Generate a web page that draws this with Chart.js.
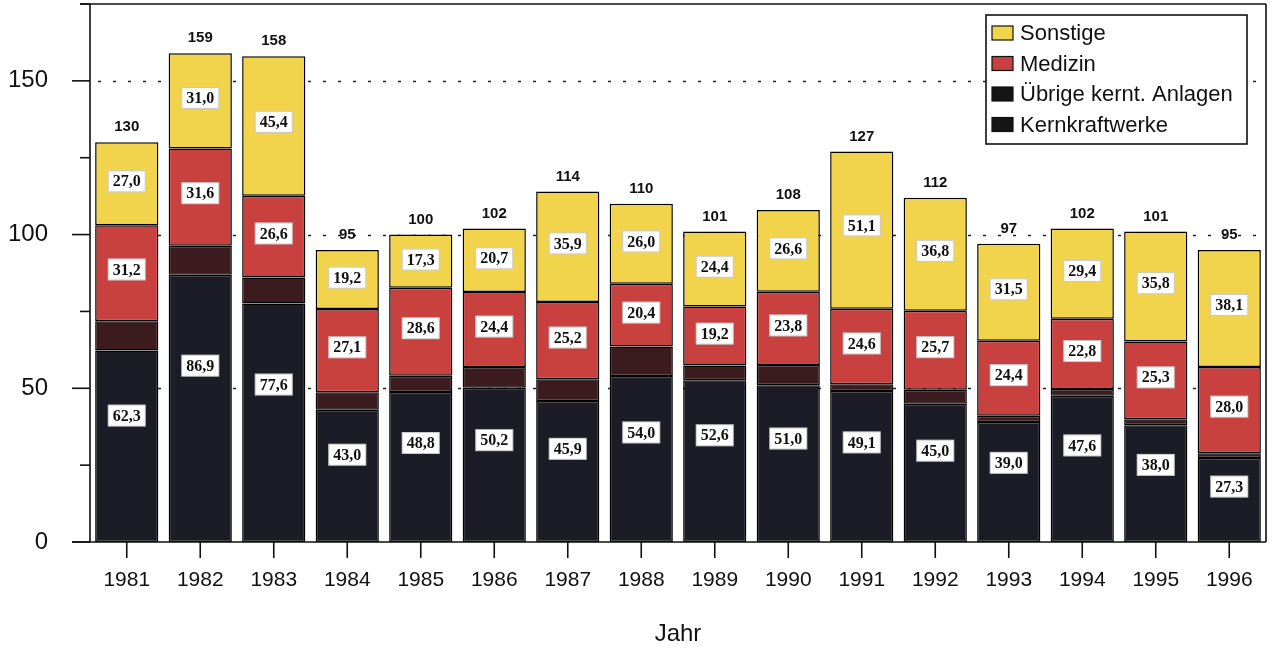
<!DOCTYPE html>
<html lang="de">
<head>
<meta charset="utf-8">
<title>Jahr – Kernkraftwerke, Übrige kernt. Anlagen, Medizin, Sonstige</title>
<script src="https://cdn.jsdelivr.net/npm/chart.js@4.4.1/dist/chart.umd.min.js"></script>
<style>
  html, body { margin: 0; padding: 0; background: #fff; }
  canvas { display: block; }
</style>
</head>
<body>
<canvas id="chart" width="1273" height="651"></canvas>
<script>
// Jahreswerte je Bereich (gestapelt, von unten nach oben)
const years = ['1981', '1982', '1983', '1984', '1985', '1986', '1987', '1988',
               '1989', '1990', '1991', '1992', '1993', '1994', '1995', '1996'];
const kernkraftwerke = [62.3, 86.9, 77.6, 43.0, 48.8, 50.2, 45.9, 54.0, 52.6, 51.0, 49.1, 45.0, 39.0, 47.6, 38.0, 27.3];
const uebrigeAnlagen = [9.5, 9.5, 8.4, 5.7, 5.3, 6.7, 7.0, 9.6, 4.8, 6.6, 2.2, 4.5, 2.1, 2.2, 1.9, 1.6];
const medizin        = [31.2, 31.6, 26.6, 27.1, 28.6, 24.4, 25.2, 20.4, 19.2, 23.8, 24.6, 25.7, 24.4, 22.8, 25.3, 28.0];
const sonstige       = [27.0, 31.0, 45.4, 19.2, 17.3, 20.7, 35.9, 26.0, 24.4, 26.6, 51.1, 36.8, 31.5, 29.4, 35.8, 38.1];
const totals         = [130, 159, 158, 95, 100, 102, 114, 110, 101, 108, 127, 112, 97, 102, 101, 95];

// Achsenbeschriftung
const yTickValues = [0, 50, 100, 150];
const gridValues  = [50, 100, 150];

const SANS  = '"Liberation Sans", Arial, Helvetica, sans-serif';
const SERIF = '"Liberation Serif", "Times New Roman", serif';
const INK = '#111111';

const COLORS = {
  kernkraftwerke: '#1c1c26',
  uebrige: '#3b1b1e',
  medizin: '#c8413f',
  sonstige: '#f1d44c'
};

const fmt = v => v.toFixed(1).replace('.', ',');

// Rahmen, Hilfslinien, Teilstriche, Werte-Kästchen, Summen und Legende
const decorations = {
  id: 'decorations',
  beforeDatasetsDraw(chart) {
    const { ctx, chartArea: a, scales: { y } } = chart;
    ctx.save();
    ctx.strokeStyle = '#222';
    ctx.lineWidth = 1.6;
    ctx.setLineDash([3, 12]);
    gridValues.forEach(v => {
      const py = Math.round(y.getPixelForValue(v)) + 0.5;
      ctx.beginPath();
      ctx.moveTo(a.left + 8, py);
      ctx.lineTo(a.right, py);
      ctx.stroke();
    });
    ctx.restore();
  },
  afterDatasetsDraw(chart) {
    const { ctx, chartArea: a, scales: { x, y } } = chart;
    ctx.save();

    // Achsen und Rahmen
    ctx.strokeStyle = INK;
    ctx.lineWidth = 1.6;
    ctx.beginPath();
    ctx.moveTo(a.left, a.top); ctx.lineTo(a.left, a.bottom);
    ctx.moveTo(a.left - 18, a.bottom); ctx.lineTo(a.right, a.bottom);
    ctx.moveTo(a.left - 10, a.top); ctx.lineTo(a.right, a.top);
    ctx.moveTo(a.right, a.top); ctx.lineTo(a.right, a.bottom);
    ctx.stroke();

    // Teilstriche der y-Achse (lang bei 50er-Schritten, kurz dazwischen)
    for (let v = 0; v <= y.max; v += 25) {
      const py = y.getPixelForValue(v);
      const len = v % 50 === 0 ? 18 : 10;
      ctx.beginPath();
      ctx.moveTo(a.left - len, py); ctx.lineTo(a.left, py);
      ctx.stroke();
    }
    // Teilstriche der x-Achse
    years.forEach((_, i) => {
      const px = x.getPixelForValue(i);
      ctx.beginPath();
      ctx.moveTo(px, a.bottom); ctx.lineTo(px, a.bottom + 16);
      ctx.stroke();
    });

    // Werte-Kästchen in den Segmenten
    const labelled = [
      { index: 0, frac: 0.66 },
      { index: 2, frac: 0.54 },
      { index: 3, frac: 0.53 }
    ];
    ctx.font = 'bold 16px ' + SERIF;
    ctx.textAlign = 'center';
    ctx.textBaseline = 'middle';
    labelled.forEach(({ index, frac }) => {
      const meta = chart.getDatasetMeta(index);
      const data = chart.data.datasets[index].data;
      meta.data.forEach((bar, i) => {
        const txt = fmt(data[i]);
        const cy = bar.base + (bar.y - bar.base) * frac;
        const w = ctx.measureText(txt).width + 10;
        const h = 22;
        ctx.fillStyle = '#fff';
        ctx.fillRect(bar.x - w / 2, cy - h / 2, w, h);
        ctx.strokeStyle = 'rgba(0,0,0,0.22)';
        ctx.lineWidth = 1;
        ctx.strokeRect(bar.x - w / 2 + 0.5, cy - h / 2 + 0.5, w - 1, h - 1);
        ctx.fillStyle = INK;
        ctx.fillText(txt, bar.x, cy + 1);
      });
    });

    // Summen über den Säulen
    const topMeta = chart.getDatasetMeta(chart.data.datasets.length - 1);
    ctx.font = 'bold 15px ' + SANS;
    ctx.fillStyle = INK;
    topMeta.data.forEach((bar, i) => {
      ctx.fillText(String(totals[i]), bar.x, bar.y - 15);
    });

    // Legende oben rechts
    const box = { x: 986, y: 15, w: 261, h: 129 };
    ctx.fillStyle = '#fff';
    ctx.fillRect(box.x, box.y, box.w, box.h);
    ctx.strokeStyle = INK;
    ctx.lineWidth = 1.6;
    ctx.strokeRect(box.x, box.y, box.w, box.h);
    const entries = chart.data.datasets.slice().reverse();
    ctx.font = '22px ' + SANS;
    ctx.textAlign = 'left';
    entries.forEach((ds, k) => {
      const cy = box.y + 18 + k * 30.5;
      ctx.fillStyle = ds.legendColor;
      ctx.fillRect(box.x + 6, cy - 7, 21, 14);
      ctx.strokeStyle = INK;
      ctx.lineWidth = 1.2;
      ctx.strokeRect(box.x + 6, cy - 7, 21, 14);
      ctx.fillStyle = INK;
      ctx.fillText(ds.label, box.x + 34, cy + 1);
    });

    ctx.restore();
  }
};

const barStyle = {
  borderColor: '#000', borderWidth: 1.5, borderSkipped: false, inflateAmount: 0,
  barPercentage: 0.86, categoryPercentage: 1.0
};

new Chart(document.getElementById('chart'), {
  type: 'bar',
  data: {
    labels: years,
    datasets: [
      { label: 'Kernkraftwerke', data: kernkraftwerke, backgroundColor: COLORS.kernkraftwerke, legendColor: '#151515', ...barStyle },
      { label: 'Übrige kernt. Anlagen', data: uebrigeAnlagen, backgroundColor: COLORS.uebrige, legendColor: '#151515', ...barStyle },
      { label: 'Medizin', data: medizin, backgroundColor: COLORS.medizin, legendColor: COLORS.medizin, ...barStyle },
      { label: 'Sonstige', data: sonstige, backgroundColor: COLORS.sonstige, legendColor: COLORS.sonstige, ...barStyle }
    ]
  },
  options: {
    responsive: false,
    animation: false,
    layout: { padding: { top: 4, right: 7, left: 0, bottom: 0 } },
    plugins: {
      legend: { display: false },
      tooltip: { enabled: false }
    },
    scales: {
      x: {
        stacked: true,
        grid: { display: false, drawTicks: false },
        border: { display: false },
        ticks: {
          autoSkip: false, maxRotation: 0, padding: 26,
          color: INK, font: { family: SANS, size: 21 }
        },
        title: {
          display: true, text: 'Jahr', color: INK,
          font: { family: SANS, size: 24 },
          padding: { top: 0, bottom: 2 }
        },
        afterFit(scale) {
          scale.height = 109;
          scale.paddingLeft = 0; scale.paddingRight = 0;
        }
      },
      y: {
        stacked: true,
        min: 0, max: 175,
        grid: { display: false, drawTicks: false },
        border: { display: false },
        ticks: {
          stepSize: 25, padding: 42, color: INK,
          font: { family: SANS, size: 24 },
          callback: v => (yTickValues.includes(v) ? String(v) : '')
        },
        afterFit(scale) {
          scale.width = 90;
          scale.paddingTop = 0; scale.paddingBottom = 0;
        }
      }
    }
  },
  plugins: [decorations]
});
</script>
</body>
</html>
